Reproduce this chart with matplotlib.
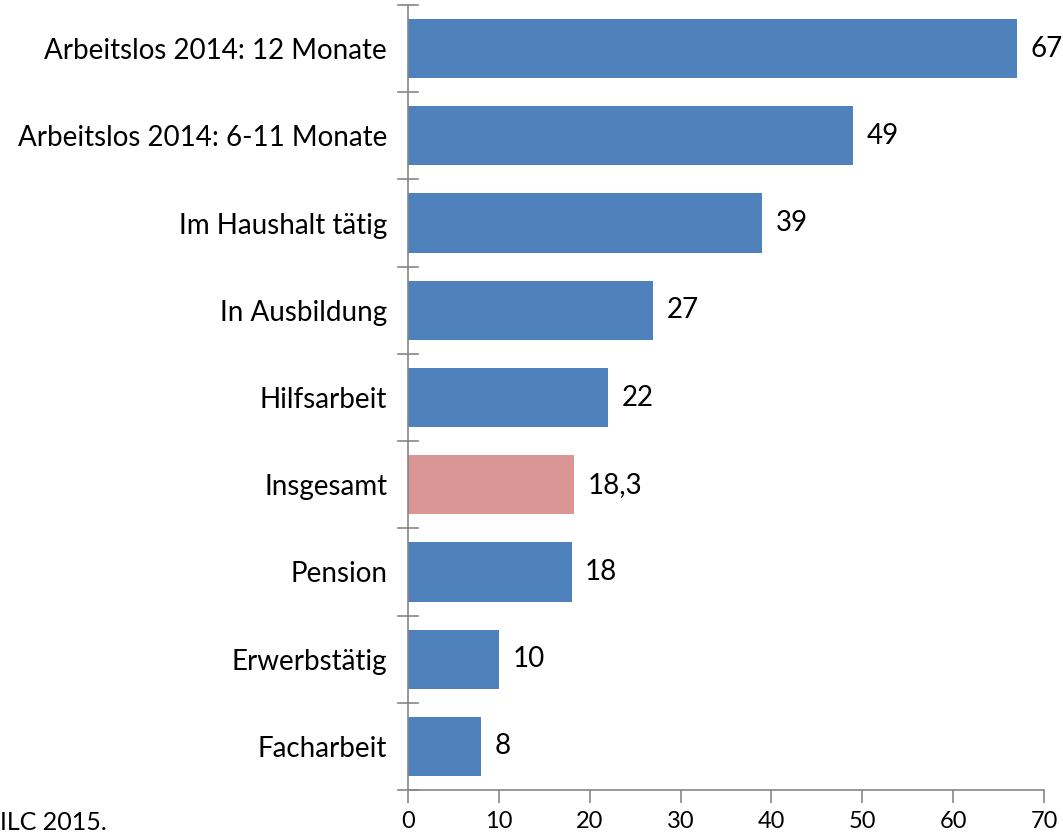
import matplotlib.pyplot as plt

plt.rcParams['font.family'] = ['Lato', 'DejaVu Sans']

categories = ['Arbeitslos 2014: 12 Monate', 'Arbeitslos 2014: 6-11 Monate', 'Im Haushalt tätig',
              'In Ausbildung', 'Hilfsarbeit', 'Insgesamt', 'Pension', 'Erwerbstätig', 'Facharbeit']
values = [67, 49, 39, 27, 22, 18.3, 18, 10, 8]
value_labels = ['67', '49', '39', '27', '22', '18,3', '18', '10', '8']
xticks = [0, 10, 20, 30, 40, 50, 60, 70]

blue = '#4F81BD'
pink = '#D99694'
grey = '#868686'

fig = plt.figure(figsize=(10.63, 8.36), dpi=100)
ax = fig.add_axes([408/1063, 1 - 790/836, (1044 - 408)/1063, 785/836])

n = len(categories)
ypos = list(range(n))[::-1]
colors = [pink if c == 'Insgesamt' else blue for c in categories]
ax.barh(ypos, values, height=0.68, color=colors, zorder=2)

for y, v, lab in zip(ypos, values, value_labels):
    ax.text(v + 1.5, y, lab, va='center', ha='left', fontsize=20)

ax.set_xlim(0, 70)
ax.set_ylim(-0.5, n - 0.5)
ax.set_xticks(xticks)
ax.set_xticklabels([str(t) for t in xticks], fontsize=17)

# category labels centred, ticks on category boundaries
ax.set_yticks(ypos)
ax.set_yticklabels(categories, fontsize=20)
ax.tick_params(axis='y', length=0, pad=15)
for b in [i - 0.5 for i in range(n + 1)]:
    ax.plot([-1.1, 1.1], [b, b], color=grey, lw=1.2, clip_on=False, zorder=3)

ax.tick_params(axis='x', length=9, width=1.2, color=grey, pad=6)
for s in ['top', 'right']:
    ax.spines[s].set_visible(False)
for s in ['left', 'bottom']:
    ax.spines[s].set_color(grey)
    ax.spines[s].set_linewidth(1.2)

fig.text(0, 1 - 822/836, 'ILC 2015.', ha='left', va='center', fontsize=18)

fig.savefig('out.png', dpi=100)
